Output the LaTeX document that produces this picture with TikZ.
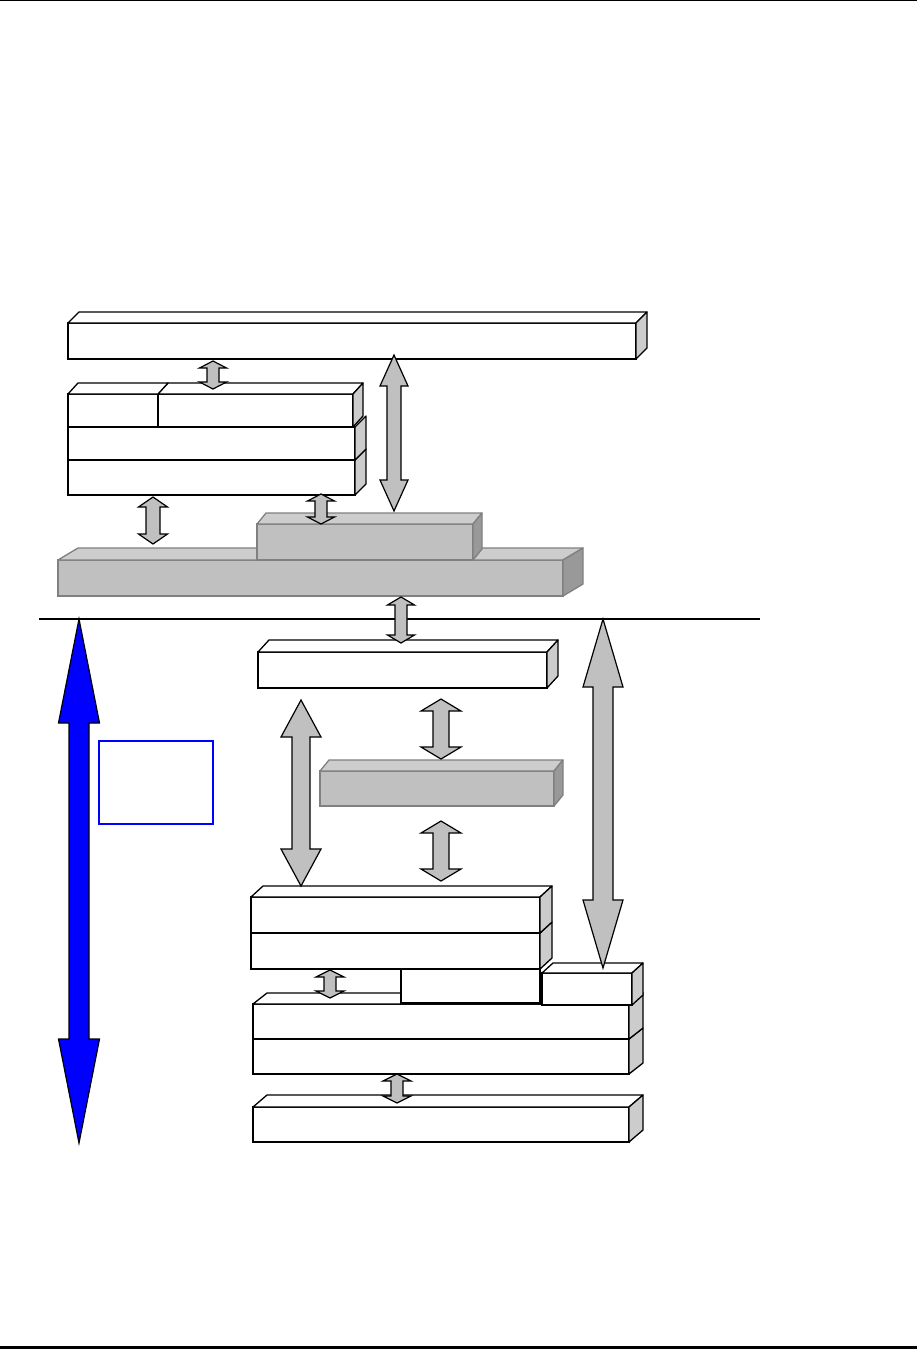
\documentclass[tikz,border=0pt]{standalone}
\usetikzlibrary{calc}
\definecolor{sidew}{HTML}{CCCCCC}
\definecolor{frontg}{HTML}{C0C0C0}
\definecolor{topg}{HTML}{CDCDCD}
\definecolor{sideg}{HTML}{999999}
\definecolor{lineg}{HTML}{808080}
\definecolor{arrg}{HTML}{C0C0C0}
\tikzset{
  wfront/.style={draw=black,fill=white,line width=1.3pt,inner sep=0pt,outer sep=0pt},
  wtop/.style={draw=black,fill=white,line width=1.3pt,line join=round},
  wside/.style={draw=black,fill=sidew,line width=1.3pt,line join=round},
  gfront/.style={draw=lineg,fill=frontg,line width=1.3pt,inner sep=0pt,outer sep=0pt},
  gtop/.style={draw=lineg,fill=topg,line width=1.3pt,line join=round},
  gside/.style={draw=lineg,fill=sideg,line width=1.3pt,line join=round},
  garrow/.style={draw=black,fill=arrg,line width=1.2pt,line join=miter},
  barrow/.style={draw=black,fill=blue,line width=1.2pt,line join=miter},
}
% front face node: kind, name, x, y, w, h
\newcommand{\frontface}[6]{\node[#1front,minimum width=#5pt,minimum height=#6pt,anchor=north west] (#2) at (#3,#4) {};}
% top face: kind, name, dx, dy
\newcommand{\topface}[4]{\draw[#1top] (#2.north west) -- ++(#3,-#4) -- ($(#2.north east)+(#3,-#4)$) -- (#2.north east) -- cycle;}
% side face: kind, name, dx, dy
\newcommand{\sideface}[4]{\draw[#1side] (#2.north east) -- ++(#3,-#4) -- ($(#2.south east)+(#3,-#4)$) -- (#2.south east) -- cycle;}
% double arrow: style, top, bottom, head width, head length, shaft width
\newcommand{\dblarrow}[6]{\draw[#1] (#2) -- ++({#4/2},#5) -- ++({-(#4-#6)/2},0) -- ($(#3)+({#6/2},-#5)$) -- ++({(#4-#6)/2},0) -- (#3) -- ++({-#4/2},-#5) -- ++({(#4-#6)/2},0) -- ($(#2)+({-#6/2},#5)$) -- ++({-(#4-#6)/2},0) -- cycle;}
\begin{document}
\begin{tikzpicture}[x=1pt,y=-1pt]
\useasboundingbox (0,0) rectangle (917,1349);
% page rules
\coordinate (rtl) at (0,0.6); \coordinate (rtr) at (917,0.6);
\draw[line width=1.2pt] (rtl) -- (rtr);
\coordinate (rbl) at (0,1347.5); \coordinate (rbr) at (917,1347.5);
\draw[line width=2.5pt] (rbl) -- (rbr);
% top bar
\frontface{w}{topbar}{68}{323}{568}{36}
\topface{w}{topbar}{11}{11}
\sideface{w}{topbar}{11}{11}
% upper stack
\frontface{w}{rthree}{68}{460}{287}{35}
\sideface{w}{rthree}{11}{11}
\frontface{w}{rtwo}{68}{427}{287}{33}
\sideface{w}{rtwo}{11}{11}
\frontface{w}{roneb}{158}{394}{195}{33}
\topface{w}{roneb}{10}{11}
\sideface{w}{roneb}{10}{11}
\frontface{w}{ronea}{68}{394}{90}{33}
\topface{w}{ronea}{10}{11}
% grey boxes upper
\frontface{g}{bigbar}{58}{560}{505}{36}
\topface{g}{bigbar}{20}{12}
\sideface{g}{bigbar}{20}{12}
\frontface{g}{ugrey}{257}{524}{216}{36}
\topface{g}{ugrey}{9}{11}
\sideface{g}{ugrey}{9}{11}
% divider line
\coordinate (hl) at (39,619); \coordinate (hr) at (760,619);
\draw[line width=1.2pt] (hl) -- (hr);
% box below line
\frontface{w}{mbox}{258}{652}{289}{36}
\topface{w}{mbox}{11}{12}
\sideface{w}{mbox}{11}{12}
% middle grey box
\frontface{g}{mgrey}{320}{771}{234}{35}
\topface{g}{mgrey}{9}{11}
\sideface{g}{mgrey}{9}{11}
% lower stack
\frontface{w}{rowe}{253}{1039}{376}{35}
\sideface{w}{rowe}{14}{11}
\frontface{w}{rowd}{253}{1004}{376}{35}
\topface{w}{rowd}{14}{11}
\sideface{w}{rowd}{14}{11}
\frontface{w}{rowc}{401}{969}{139}{34}
\frontface{w}{smallbox}{542}{973}{90}{32}
\topface{w}{smallbox}{11}{10}
\sideface{w}{smallbox}{11}{10}
\frontface{w}{rowb}{251}{933}{289}{36}
\sideface{w}{rowb}{12}{11}
\frontface{w}{rowa}{251}{897}{289}{36}
\topface{w}{rowa}{12}{11}
\sideface{w}{rowa}{12}{11}
% bottom box
\frontface{w}{botbox}{253}{1107}{376}{35}
\topface{w}{botbox}{14}{12}
\sideface{w}{botbox}{14}{12}
% blue box
\node[draw=blue,line width=1.8pt,minimum width=114pt,minimum height=83pt,inner sep=0pt,anchor=north west] (bluebox) at (98,740) {};
% arrows
\coordinate (a1t) at (213,361); \coordinate (a1b) at (213,389);
\dblarrow{garrow}{a1t}{a1b}{27}{7}{12}
\coordinate (a2t) at (394,355); \coordinate (a2b) at (394,511);
\dblarrow{garrow}{a2t}{a2b}{28}{31}{14}
\coordinate (a3t) at (153,497); \coordinate (a3b) at (153,544);
\dblarrow{garrow}{a3t}{a3b}{29}{10}{14}
\coordinate (a4t) at (321,494); \coordinate (a4b) at (321,524);
\dblarrow{garrow}{a4t}{a4b}{27}{7}{12}
\coordinate (a5t) at (401,597); \coordinate (a5b) at (401,643);
\dblarrow{garrow}{a5t}{a5b}{27}{8}{12}
\coordinate (a6t) at (301,700); \coordinate (a6b) at (301,886);
\dblarrow{garrow}{a6t}{a6b}{40}{37}{18}
\coordinate (a7t) at (441,699); \coordinate (a7b) at (441,759);
\dblarrow{garrow}{a7t}{a7b}{40}{12}{16}
\coordinate (a8t) at (441,821); \coordinate (a8b) at (441,881);
\dblarrow{garrow}{a8t}{a8b}{40}{12}{16}
\coordinate (a9t) at (603,619); \coordinate (a9b) at (603,968);
\dblarrow{garrow}{a9t}{a9b}{40}{68}{20}
\coordinate (a10t) at (330,970); \coordinate (a10b) at (330,998);
\dblarrow{garrow}{a10t}{a10b}{28}{7}{12}
\coordinate (a11t) at (397,1074); \coordinate (a11b) at (397,1103);
\dblarrow{garrow}{a11t}{a11b}{28}{7}{12}
\coordinate (bat) at (79,619); \coordinate (bab) at (79,1143);
\dblarrow{barrow}{bat}{bab}{41}{104}{20}
\end{tikzpicture}
\end{document}
